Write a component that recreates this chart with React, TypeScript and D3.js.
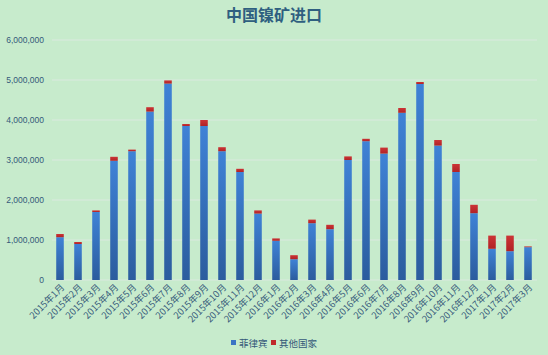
import * as d3 from 'd3';
import React, { useEffect, useRef } from 'react';

// months on the x axis
const months = [
  '2015年1月', '2015年2月', '2015年3月', '2015年4月', '2015年5月', '2015年6月',
  '2015年7月', '2015年8月', '2015年9月', '2015年10月', '2015年11月', '2015年12月',
  '2016年1月', '2016年2月', '2016年3月', '2016年4月', '2016年5月', '2016年6月',
  '2016年7月', '2016年8月', '2016年9月', '2016年10月', '2016年11月', '2016年12月',
  '2017年1月', '2017年2月', '2017年3月',
];

// 菲律宾
const philippines = [
  1070000, 900000, 1700000, 2980000, 3220000, 4210000, 4910000, 3850000, 3850000,
  3220000, 2700000, 1660000, 980000, 520000, 1420000, 1270000, 3000000, 3470000,
  3160000, 4180000, 4900000, 3360000, 2700000, 1670000, 780000, 720000, 820000,
];

// 其他国家
const others = [
  80000, 50000, 40000, 100000, 40000, 110000, 80000, 50000, 150000,
  100000, 80000, 80000, 60000, 100000, 90000, 110000, 90000, 60000,
  150000, 120000, 50000, 140000, 200000, 210000, 330000, 390000, 20000,
];

const seriesNames = ['菲律宾', '其他国家'];
const yTicks = [0, 1000000, 2000000, 3000000, 4000000, 5000000, 6000000];

export default function App() {
  const ref = useRef<SVGSVGElement>(null);

  const width = 548;
  const height = 355;
  const margin = { top: 40, right: 11, bottom: 75, left: 51 };

  useEffect(() => {
    drawChart();
  }, []);

  function drawChart() {
    const svg = d3.select(ref.current);
    svg.selectAll('*').remove();

    const fontFam = '"Noto Sans CJK SC", "Liberation Sans", sans-serif';
    const textColor = '#35597a';

    svg.append('rect')
      .attr('width', width)
      .attr('height', height)
      .attr('fill', '#c7ebcc');

    const defs = svg.append('defs');
    const grad = defs.append('linearGradient')
      .attr('id', 'blueGrad')
      .attr('x1', 0).attr('y1', 0).attr('x2', 0).attr('y2', 1);
    grad.append('stop').attr('offset', '0%').attr('stop-color', '#3f82d6');
    grad.append('stop').attr('offset', '100%').attr('stop-color', '#2b5c9e');

    const redGrad = defs.append('linearGradient')
      .attr('id', 'redGrad')
      .attr('x1', 0).attr('y1', 0).attr('x2', 0).attr('y2', 1);
    redGrad.append('stop').attr('offset', '0%').attr('stop-color', '#cc3436');
    redGrad.append('stop').attr('offset', '100%').attr('stop-color', '#b12226');

    const x = d3.scaleBand()
      .domain(months)
      .range([margin.left, width - margin.right])
      .paddingInner(0.58)
      .paddingOuter(0.29);

    const y = d3.scaleLinear()
      .domain([0, 6000000])
      .range([height - margin.bottom, margin.top]);

    // title
    svg.append('text')
      .attr('x', 274)
      .attr('y', 21)
      .attr('text-anchor', 'middle')
      .attr('font-family', fontFam)
      .attr('font-size', 16)
      .attr('font-weight', 'bold')
      .attr('fill', '#2f5f80')
      .text('中国镍矿进口');

    // gridlines
    svg.append('g')
      .selectAll('line')
      .data(yTicks)
      .enter()
      .append('line')
      .attr('x1', margin.left + 1)
      .attr('x2', width - margin.right)
      .attr('y1', d => y(d))
      .attr('y2', d => y(d))
      .attr('stroke', '#dbe9e0')
      .attr('stroke-width', 1);

    // y axis labels
    const yAxis = d3.axisLeft(y)
      .tickValues(yTicks)
      .tickFormat(d3.format(','))
      .tickSize(0)
      .tickPadding(7);

    const yg = svg.append('g')
      .attr('transform', 'translate(' + margin.left + ',0)')
      .call(yAxis);
    yg.select('.domain').remove();
    yg.selectAll('text')
      .attr('font-family', '"Liberation Sans", Arial, sans-serif')
      .attr('font-size', 8.5)
      .attr('fill', textColor);

    // x axis labels
    const xAxis = d3.axisBottom(x).tickSize(0).tickPadding(0);
    const xg = svg.append('g')
      .attr('transform', 'translate(0,' + (height - margin.bottom) + ')')
      .call(xAxis);
    xg.select('.domain').remove();
    xg.selectAll('text')
      .attr('font-family', fontFam)
      .attr('font-size', 9.3)
      .attr('fill', textColor)
      .attr('dy', 0)
      .attr('y', 0)
      .attr('transform', 'translate(5,8) rotate(-45)')
      .style('text-anchor', 'end');

    // bars - philippines
    svg.append('g')
      .selectAll('rect')
      .data(philippines)
      .enter()
      .append('rect')
      .attr('x', (d, i) => x(months[i])!)
      .attr('y', d => y(d))
      .attr('width', x.bandwidth())
      .attr('height', d => y(0) - y(d))
      .attr('fill', 'url(#blueGrad)');

    // bars - others, stacked on top
    svg.append('g')
      .selectAll('rect')
      .data(others)
      .enter()
      .append('rect')
      .attr('x', (d, i) => x(months[i])!)
      .attr('y', (d, i) => y(philippines[i] + d))
      .attr('width', x.bandwidth())
      .attr('height', (d, i) => y(philippines[i]) - y(philippines[i] + d))
      .attr('fill', 'url(#redGrad)');

    // legend
    const legendColors = ['#3a74c4', '#c0282b'];
    const legendX = [231, 271];
    const lg = svg.append('g');
    seriesNames.forEach((name, i) => {
      lg.append('rect')
        .attr('x', legendX[i])
        .attr('y', 340)
        .attr('width', 5)
        .attr('height', 5)
        .attr('fill', legendColors[i]);
      lg.append('text')
        .attr('x', legendX[i] + 8)
        .attr('y', 347)
        .attr('font-family', fontFam)
        .attr('font-size', 9.5)
        .attr('fill', textColor)
        .text(name);
    });
  }

  return (
    <div style={{ position: 'fixed', left: 0, top: 0 }}>
      <svg ref={ref} width={width} height={height} style={{ display: 'block' }} />
    </div>
  );
}
